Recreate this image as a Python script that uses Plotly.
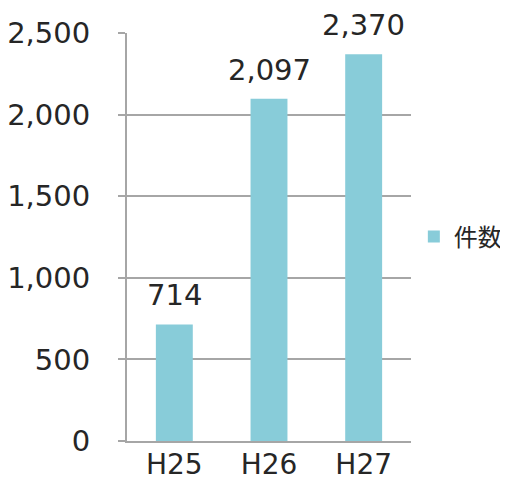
import plotly.graph_objects as go

categories = ["H25", "H26", "H27"]
values = [714, 2097, 2370]
labels = ["714", "2,097", "2,370"]
series_name = "件数"
tick_vals = [0, 500, 1000, 1500, 2000, 2500]
tick_text = ["0", "500", "1,000", "1,500", "2,000", "2,500"]

FONT = "DejaVu Sans, Noto Sans CJK JP, sans-serif"
GRID = "#a6a6a6"
TXT = "#262626"

fig = go.Figure()
fig.add_trace(go.Bar(
    x=categories, y=values, name=series_name,
    marker=dict(color="#88ccd9", line=dict(width=0)),
    width=0.39,
))
for c, v, t in zip(categories, values, labels):
    fig.add_annotation(x=c, y=v, text=t, showarrow=False,
                       xanchor="center", yanchor="bottom", yshift=10,
                       font=dict(size=29, color=TXT, family=FONT))
fig.update_layout(
    width=508, height=480,
    margin=dict(l=119, r=105, t=25, b=47, autoexpand=False),
    paper_bgcolor="white", plot_bgcolor="white",
    font=dict(family=FONT, color=TXT),
    showlegend=True,
    legend=dict(x=1.01, y=0.5, xanchor="left", yanchor="middle",
                font=dict(size=24, color=TXT, family="Noto Sans CJK JP"),
                itemwidth=30, bgcolor="rgba(0,0,0,0)"),
)
fig.update_yaxes(
    range=[0, 2500], tickvals=tick_vals, ticktext=tick_text,
    showgrid=True, gridcolor=GRID, gridwidth=2,
    showline=True, linecolor=GRID, linewidth=2,
    ticks="outside", ticklen=7, tickcolor=GRID, tickwidth=2,
    tickfont=dict(size=29, color=TXT),
    zeroline=False, ticklabelstandoff=22,
)
fig.update_xaxes(
    showline=True, linecolor=GRID, linewidth=2,
    ticks="", tickfont=dict(size=28, color=TXT),
    showgrid=False, ticklabelstandoff=-3,
)
fig.write_html("out.html")
